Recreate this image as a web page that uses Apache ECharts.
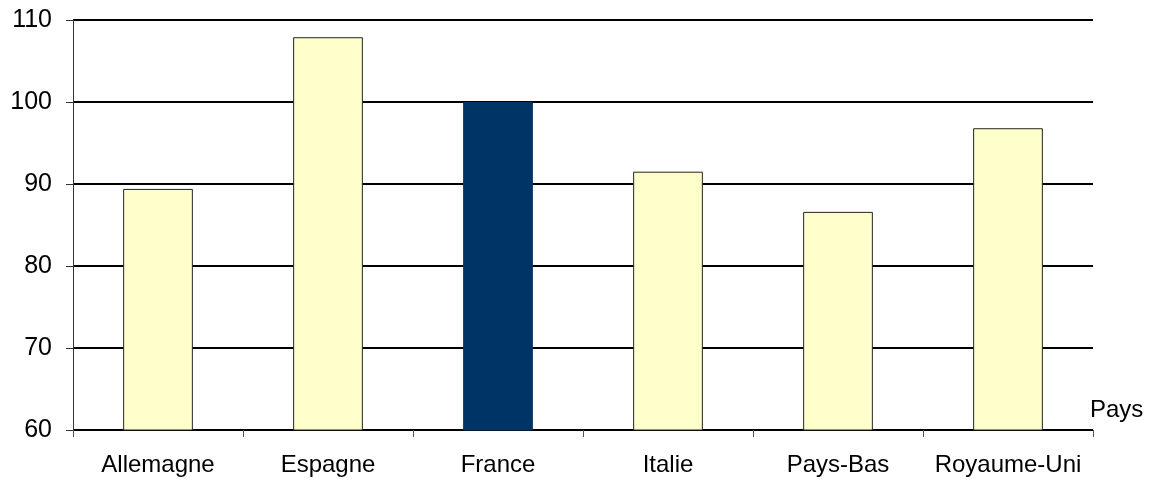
<!DOCTYPE html>
<html>
<head>
<meta charset="utf-8">
<script src="https://cdn.jsdelivr.net/npm/echarts@6/dist/echarts.min.js"></script>
<style>
html,body{margin:0;padding:0;background:#fff;}
#chart{width:1161px;height:481px;}
</style>
</head>
<body>
<div id="chart"></div>
<script>
const categories = ['Allemagne', 'Espagne', 'France', 'Italie', 'Pays-Bas', 'Royaume-Uni'];
const values = [89.4, 107.9, 100, 91.5, 86.6, 96.8];
const highlighted = 'France';
const yTicks = [60, 70, 80, 90, 100, 110];

const chart = echarts.init(document.getElementById('chart'));
chart.setOption({
  animation: false,
  backgroundColor: '#ffffff',
  grid: { left: 73, right: 68, top: 20, bottom: 51, containLabel: false },
  xAxis: {
    type: 'category',
    data: categories,
    name: 'Pays',
    nameLocation: 'end',
    nameGap: -3,
    nameTextStyle: {
      color: '#000', fontSize: 24, fontFamily: 'Liberation Sans, Arial, sans-serif',
      verticalAlign: 'bottom', align: 'left', padding: [0, 0, 8, 0]
    },
    axisLine: { show: true, lineStyle: { color: '#000', width: 1 } },
    axisTick: { show: true, interval: 0, alignWithLabel: false, length: 7, lineStyle: { color: '#555' } },
    axisLabel: { interval: 0, color: '#000', fontSize: 24, fontFamily: 'Liberation Sans, Arial, sans-serif', margin: 23 },
    splitLine: { show: false }
  },
  yAxis: {
    type: 'value',
    min: yTicks[0],
    max: yTicks[yTicks.length - 1],
    interval: 10,
    axisLine: { show: true, lineStyle: { color: '#333', width: 1 } },
    axisTick: { show: true, length: 7, lineStyle: { color: '#333' } },
    axisLabel: { color: '#000', fontSize: 25, fontFamily: 'Liberation Sans, Arial, sans-serif', margin: 21 },
    splitLine: { show: true, lineStyle: { color: '#000', width: 2 } }
  },
  series: [{
    type: 'bar',
    data: values.map((v, i) => ({
      value: v,
      itemStyle: categories[i] === highlighted
        ? { color: '#003366', borderColor: '#003366', borderWidth: 1 }
        : { color: '#FFFFCC', borderColor: '#222', borderWidth: 1 }
    })),
    barWidth: '41%',
    z: 3
  }]
});
</script>
</body>
</html>
